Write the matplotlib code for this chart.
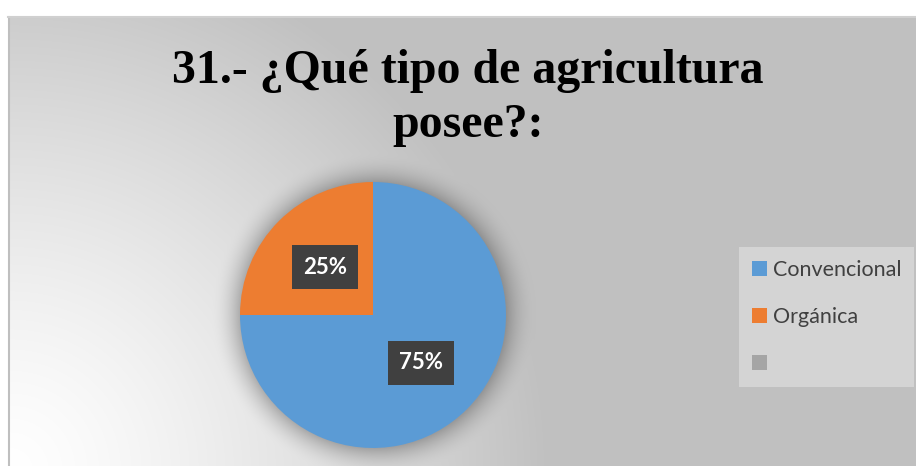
import matplotlib
matplotlib.use('Agg')
import matplotlib.pyplot as plt
import numpy as np

# --- DATA ---
categories = ['Convencional', 'Orgánica', '']
values = [75, 25, 0]
colors = ['#5b9bd5', '#ed7d31', '#a5a5a5']
title = '31.- ¿Qué tipo de agricultura\nposee?:'

W, H = 916, 466
fig = plt.figure(figsize=(W / 100, H / 100), dpi=100, facecolor='white')

# --- BACKGROUND (radial gradient from bottom-left + pie shadow) ---
bg = fig.add_axes([8 / W, 0, (W - 8) / W, (H - 16) / H])
yy, xx = np.mgrid[16:H, 8:W].astype(float)
d = np.hypot(xx - 10, yy - 470)
t = np.clip(d / 540, 0, 1) ** 1.3
g = 255 - (255 - 192) * t
# soft shadow around the pie
pc = np.hypot(xx - 373, yy - 315)
sh = np.clip(1 - (pc - 133) / 30, 0, 1) ** 2 * 0.25
g = g * (1 - sh)
img = np.dstack([g, g, g]) / 255
bg.imshow(img, extent=[8, W, H, 16], aspect='auto', interpolation='bilinear')
bg.set_xlim(8, W)
bg.set_ylim(H, 16)
bg.axis('off')
# border
fig.add_artist(plt.Line2D([8.5 / W, 8.5 / W], [0, (H - 16.5) / H], color='#bfbfbf', lw=1.5))
fig.add_artist(plt.Line2D([8 / W, 1], [(H - 16.5) / H, (H - 16.5) / H], color='#d0d0d0', lw=1.5))

# --- TITLE ---
fig.text(468 / W, 1 - 137 / H, title, ha='center', va='baseline', fontsize=34.5,
         fontweight='bold', family='Liberation Serif', color='black', linespacing=1.28,
         multialignment='center')

# --- PIE ---
R = 133
ax = fig.add_axes([(373 - R) / W, (H - 315 - R) / H, 2 * R / W, 2 * R / H])
ax.set_facecolor('none')
wedges, texts, autotexts = ax.pie(values, colors=colors, startangle=90, counterclock=False,
                                  autopct=lambda p: f'{p:.0f}%' if p > 0 else '',
                                  pctdistance=0.51, radius=1,
                                  wedgeprops=dict(linewidth=0))
for at in autotexts:
    at.set_color('white')
    at.set_fontsize(16)
    at.set_fontweight('bold')
    at.set_family('Lato')
    at.set_bbox(dict(boxstyle='square,pad=0.5', facecolor='#404040', edgecolor='none'))
ax.set_xlim(-1, 1)
ax.set_ylim(-1, 1)
ax.set_aspect('equal')

# --- LEGEND ---
leg = fig.legend(wedges, categories, loc='upper left',
                 bbox_to_anchor=(739 / W, 1 - 247 / H),
                 frameon=True, fancybox=False, prop=dict(family='Lato', size=15.5),
                 handlelength=0.72, handleheight=0.72, handletextpad=0.25,
                 labelspacing=1.25, borderpad=0.6, borderaxespad=0)
leg.get_frame().set_facecolor('#d4d4d4')
leg.get_frame().set_edgecolor('none')
leg.get_frame().set_alpha(1)
for txt in leg.get_texts():
    txt.set_color('#404040')

fig.savefig('out.png', dpi=100, facecolor='white')
